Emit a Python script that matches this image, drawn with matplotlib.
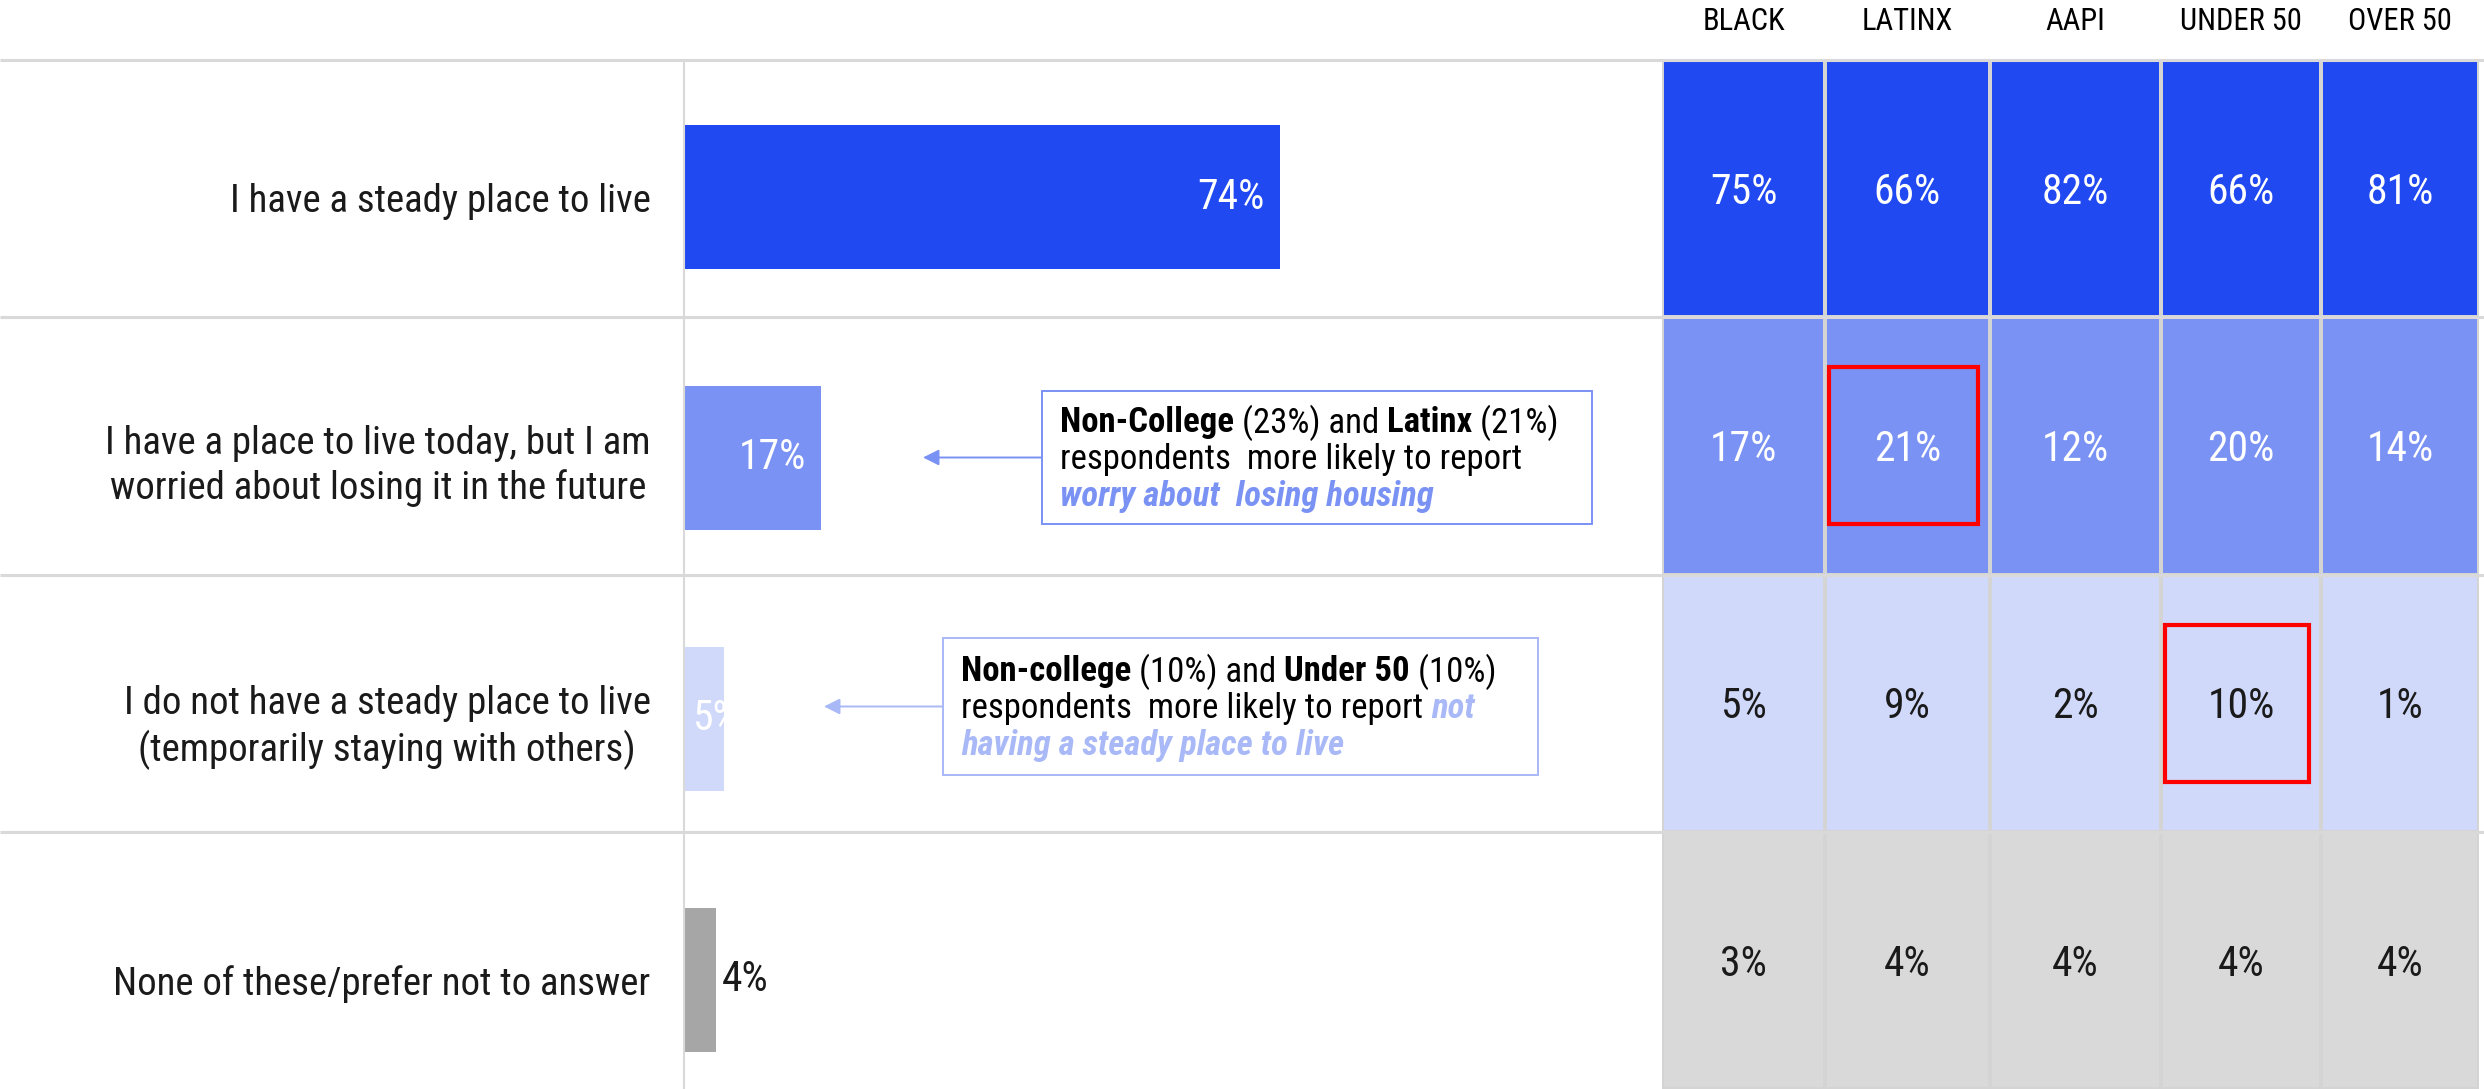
import matplotlib
matplotlib.use("Agg")
import matplotlib.pyplot as plt
import numpy as np
from matplotlib import font_manager
from matplotlib.colors import ListedColormap
from matplotlib.patches import Rectangle

# --- survey data ---------------------------------------------------------------
answers = [
    "I have a steady place to live",
    "I have a place to live today, but I am\nworried about losing it in the future",
    "I do not have a steady place to live\n(temporarily staying with others)",
    "None of these/prefer not to answer",
]
overall = [74, 17, 5, 4]

groups = ["BLACK", "LATINX", "AAPI", "UNDER 50", "OVER 50"]
black = [75, 17, 5, 3]
latinx = [66, 21, 9, 4]
aapi = [82, 12, 2, 4]
under_50 = [66, 20, 10, 4]
over_50 = [81, 14, 1, 4]

# (answer row, group column) cells framed in red
highlights = [(1, 1), (2, 3)]

# callout text as runs of (text, style) per line; style b=bold, i=italic, k=accent colour
callout_worry = [
    [("Non-College", "b"), (" (23%) and ", ""), ("Latinx", "b"), (" (21%)", "")],
    [("respondents  more likely to report", "")],
    [("worry about  losing housing", "bik")],
]
callout_unsteady = [
    [("Non-college", "b"), (" (10%) and ", ""), ("Under 50", "b"), (" (10%)", "")],
    [("respondents  more likely to report ", ""), ("not", "bik")],
    [("having a steady place to live", "bik")],
]


def pick_family(*names):
    for name in names:
        try:
            font_manager.findfont(name, fallback_to_default=False)
            return name
        except ValueError:
            pass
    return "DejaVu Sans"


FONT = pick_family("Liberation Sans Narrow", "Roboto Condensed", "Open Sans Condensed",
                   "Liberation Sans")
plt.rcParams["font.family"] = [FONT, "DejaVu Sans"]

# --- styling -------------------------------------------------------------------
DARK, MID, LIGHT = "#2049f2", "#7a92f4", "#d0d9fa"
BAR_GREY, CELL_GREY = "#a6a6a6", "#d9d9d9"
RULE = "#d9d9d9"
INK = "#1a1a1a"
bar_colors = [DARK, MID, LIGHT, BAR_GREY]
cell_colors = [DARK, MID, LIGHT, CELL_GREY]
value_colors = ["white", "white", INK, INK]
# where each overall label sits: inside the bar end, inside the base, or outside
label_place = ["end", "end", "base", "out"]
label_colors = ["white", "white", "white", INK]

W, H = 2484, 1089
fig = plt.figure(figsize=(W / 100, H / 100), dpi=100)


def px_axes(x0, y0, x1, y1):
    """Axes placed by its pixel box (top-left origin)."""
    return fig.add_axes([x0 / W, 1 - y1 / H, (x1 - x0) / W, (y1 - y0) / H])


TOP, TABLE_X0, TABLE_X1 = 60, 1662, 2479
BAR_X0 = 684
PX_PER_PCT = 8.05

# --- overall bars --------------------------------------------------------------
ax = px_axes(BAR_X0, TOP, TABLE_X0, H)
ax.set_xlim(0, (TABLE_X0 - BAR_X0) / PX_PER_PCT)
ax.set_ylim(3.418, -0.525)
ax.barh(range(len(overall)), overall, height=0.55, color=bar_colors)
ax.set_yticks(range(len(answers)), answers, fontsize=28, color=INK)
for lab in ax.get_yticklabels():
    lab.set_multialignment("center")
    lab.set_linespacing(1.25)
ax.tick_params(axis="y", length=0, pad=24)
ax.set_xticks([])
for side in ("top", "right", "bottom"):
    ax.spines[side].set_visible(False)
ax.spines["left"].set_color(RULE)
ax.spines["left"].set_linewidth(1.5)
ax.patch.set_alpha(0)

for i, v in enumerate(overall):
    place = label_place[i]
    if place == "end":
        xy, off, ha = (v, i), (-15, 0), "right"
    elif place == "base":
        xy, off, ha = (0, i), (8, 0), "left"
    else:
        xy, off, ha = (v, i), (6, 0), "left"
    ax.annotate(f"{v}%", xy=xy, xytext=off, textcoords="offset pixels",
                ha=ha, va="center", fontsize=30, color=label_colors[i])

# --- subgroup table ------------------------------------------------------------
tab = px_axes(TABLE_X0, TOP, TABLE_X1, H)
col_edges = np.array([0, 163, 328, 499, 659, TABLE_X1 - TABLE_X0])
row_edges = np.arange(len(answers) + 1)
tab.set_xlim(col_edges[0], col_edges[-1])
tab.set_ylim(len(answers), 0)
shade = np.repeat(np.arange(len(answers))[:, None], len(groups), axis=1)
tab.pcolormesh(col_edges, row_edges, shade, cmap=ListedColormap(cell_colors),
               vmin=-0.5, vmax=len(answers) - 0.5, edgecolors="#d4d4d4", linewidth=1.5)
tab.axis("off")

values = np.array([black, latinx, aapi, under_50, over_50]).T
col_mid = (col_edges[:-1] + col_edges[1:]) / 2
col_w = np.diff(col_edges)
row_px = (H - TOP) / len(answers)
for r in range(values.shape[0]):
    for c in range(values.shape[1]):
        tab.text(col_mid[c], r + 0.515, f"{values[r, c]}%", ha="center", va="center",
                 fontsize=30, color=value_colors[r])
for c, g in enumerate(groups):
    tab.text(col_mid[c], (21 - TOP) / row_px, g, ha="center", va="center",
             fontsize=22, color="black")
for r, c in highlights:
    bw, bh = col_w[c] * 0.9, 0.61
    tab.add_patch(Rectangle((col_edges[c] + 4, r + 0.5 - bh / 2), bw, bh,
                            fill=False, edgecolor="#ff0000", linewidth=3, zorder=5))

# --- rules, callouts -----------------------------------------------------------
ov = fig.add_axes([0, 0, 1, 1], zorder=10)
ov.set_xlim(0, W)
ov.set_ylim(H, 0)
ov.axis("off")
ov.patch.set_alpha(0)
ov.hlines(TOP + row_px * np.arange(len(answers)), 0, W, color=RULE, linewidth=2.2)


def draw_runs(x, y, runs, accent, size=25):
    prev = None
    for text, style in runs:
        kw = dict(fontsize=size, va="center", ha="left",
                  color=accent if "k" in style else "black",
                  fontweight="bold" if "b" in style else "normal",
                  fontstyle="italic" if "i" in style else "normal")
        if prev is None:
            prev = ov.text(x, y, text, **kw)
        else:
            prev = ov.annotate(text, xy=(1, 0.5), xycoords=prev, **kw)


def callout(box, tip_x, lines, accent, edge):
    x0, y0, x1, y1 = box
    ov.add_patch(Rectangle((x0, y0), x1 - x0, y1 - y0, fill=False,
                           edgecolor=edge, linewidth=1.4))
    ymid = (y0 + y1) / 2
    ov.annotate("", xy=(tip_x, ymid), xytext=(x0, ymid),
                arrowprops=dict(arrowstyle="-|>", color=edge, lw=1.4,
                                mutation_scale=24, shrinkA=0, shrinkB=0))
    n = len(lines)
    step = 37
    for k, runs in enumerate(lines):
        draw_runs(x0 + 18, ymid + 2 + (k - (n - 1) / 2) * step, runs, accent)


callout((1042, 391, 1592, 524), 923, callout_worry, MID, MID)
callout((943, 638, 1538, 775), 824, callout_unsteady, "#a9b9f7", "#a9b9f7")

fig.savefig("out.png", dpi=100)
